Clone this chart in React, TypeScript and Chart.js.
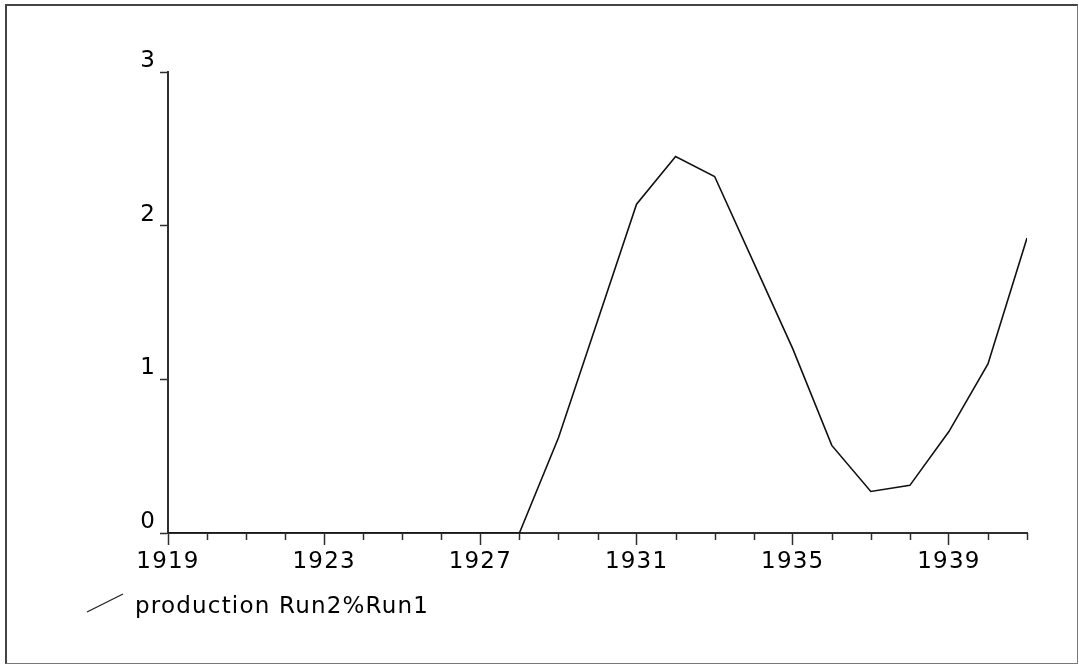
import React, { useEffect, useRef } from "react";
import { Chart, registerables } from "chart.js";

Chart.register(...registerables);

const years: number[] = [
  1919, 1920, 1921, 1922, 1923, 1924, 1925, 1926, 1927, 1928, 1929, 1930,
  1931, 1932, 1933, 1934, 1935, 1936, 1937, 1938, 1939, 1940, 1941,
];
const production: number[] = [
  0, 0, 0, 0, 0, 0, 0, 0, 0, 0, 0.62, 1.38, 2.14, 2.45, 2.32, 1.76, 1.2, 0.57,
  0.27, 0.31, 0.66, 1.1, 1.92,
];
const seriesLabel = "production Run2%Run1";
const yTicks: number[] = [0, 1, 2, 3];
const labelEvery = 4;

const FONT = "'DejaVu Sans', sans-serif";
const FONT_SIZE = 23;
const SPACING = "1.2px";
const AXIS = "#2e2e2e";
const TEXT = "#000000";

const spacingPlugin = {
  id: "spacing",
  beforeLayout(chart: any) {
    chart.ctx.letterSpacing = SPACING;
  },
  beforeDraw(chart: any) {
    chart.ctx.letterSpacing = SPACING;
  },
};

const minorTicksPlugin = {
  id: "minorTicks",
  afterDraw(chart: any) {
    const xs = chart.scales.x;
    const ctx = chart.ctx;
    ctx.save();
    ctx.strokeStyle = AXIS;
    ctx.lineWidth = 1.5;
    const y0 = chart.chartArea.bottom;
    years.forEach((yr) => {
      if ((yr - years[0]) % labelEvery === 0) return;
      const px = Math.round(xs.getPixelForValue(yr)) + 0.5;
      ctx.beginPath();
      ctx.moveTo(px, y0);
      ctx.lineTo(px, y0 + 7);
      ctx.stroke();
    });
    ctx.restore();
  },
};

const legendPlugin = {
  id: "customLegend",
  afterDraw(chart: any) {
    const ctx = chart.ctx;
    const area = chart.chartArea;
    const label = chart.data.datasets[0].label;
    ctx.save();
    ctx.strokeStyle = "#222";
    ctx.lineWidth = 1.3;
    const lx = area.left - 81;
    const ly = area.bottom + 79;
    ctx.beginPath();
    ctx.moveTo(lx, ly);
    ctx.lineTo(lx + 36, ly - 18);
    ctx.stroke();
    ctx.letterSpacing = SPACING;
    ctx.fillStyle = TEXT;
    ctx.font = `${FONT_SIZE}px ${FONT}`;
    ctx.textBaseline = "alphabetic";
    ctx.textAlign = "left";
    ctx.fillText(label, lx + 48, ly + 1);
    ctx.restore();
  },
};

export default function App() {
  const canvasRef = useRef<HTMLCanvasElement | null>(null);

  useEffect(() => {
    document.body.style.margin = "0";
    const canvas = canvasRef.current;
    if (!canvas) return;
    const chart = new Chart(canvas, {
      type: "line",
      data: {
        datasets: [
          {
            label: seriesLabel,
            data: years.map((yr, i) => ({ x: yr, y: production[i] })),
            borderColor: "#111111",
            borderWidth: 1.6,
            pointRadius: 0,
            tension: 0,
            fill: false,
          },
        ],
      },
      options: {
        responsive: false,
        animation: false,
        events: [],
        layout: { padding: { left: 0, top: 72, right: 52, bottom: 0 } },
        plugins: {
          legend: { display: false },
          tooltip: { enabled: false },
          title: { display: false },
        },
        scales: {
          x: {
            type: "linear",
            min: years[0],
            max: years[years.length - 1],
            afterFit(scale: any) {
              scale.height = 131;
            },
            border: { display: true, color: AXIS, width: 2 },
            grid: {
              drawOnChartArea: false,
              drawTicks: true,
              tickLength: 12,
              tickWidth: 1.5,
              tickColor: (c: any) =>
                c.tick && (c.tick.value - years[0]) % labelEvery === 0
                  ? AXIS
                  : "rgba(0,0,0,0)",
            },
            ticks: {
              stepSize: 1,
              autoSkip: false,
              maxRotation: 0,
              padding: 3,
              color: TEXT,
              font: { family: FONT, size: FONT_SIZE },
              callback: (v: any) =>
                (Number(v) - years[0]) % labelEvery === 0 ? String(v) : "",
            },
          },
          y: {
            type: "linear",
            min: yTicks[0],
            max: yTicks[yTicks.length - 1],
            afterFit(scale: any) {
              scale.width = 168;
            },
            border: { display: true, color: AXIS, width: 2 },
            grid: {
              drawOnChartArea: false,
              drawTicks: true,
              tickLength: 8,
              tickWidth: 1.5,
              tickColor: AXIS,
            },
            ticks: {
              stepSize: 1,
              padding: 4,
              labelOffset: -11,
              color: TEXT,
              font: { family: FONT, size: FONT_SIZE },
              callback: (v: any) => String(v),
            },
          },
        },
      },
      plugins: [spacingPlugin, minorTicksPlugin, legendPlugin],
    } as any);
    return () => chart.destroy();
  }, []);

  return (
    <div style={{ position: "relative", width: 1079, height: 664, background: "#fff" }}>
      <canvas
        ref={canvasRef}
        width={1079}
        height={664}
        style={{ position: "absolute", left: 0, top: 0, width: 1079, height: 664 }}
      />
      <div
        style={{
          position: "absolute",
          left: 5,
          top: 4,
          width: 1070,
          height: 657,
          borderTop: "2px solid #444",
          borderLeft: "2px solid #444",
          borderRight: "1px solid #777",
          borderBottom: "1px solid #777",
          pointerEvents: "none",
        }}
      />
    </div>
  );
}
